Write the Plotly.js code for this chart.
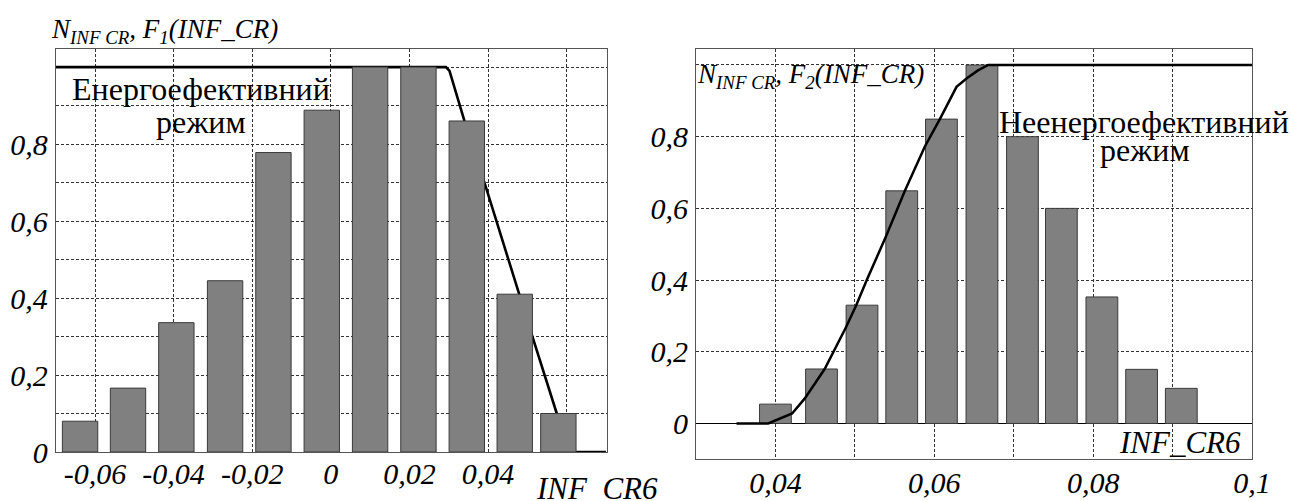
<!DOCTYPE html>
<html>
<head>
<meta charset="utf-8">
<script src="https://cdn.plot.ly/plotly-3.0.1.min.js"></script>
<style>
  html, body { margin: 0; padding: 0; background: #fff; }
  #chart { width: 1291px; height: 501px; }
</style>
</head>
<body>
<div id="chart"></div>
<script>
// ---------- Left panel: energy-efficient mode ----------
const leftBinCenters = [-0.0638, -0.0516, -0.0393, -0.0269, -0.0146, -0.0023, 0.0100, 0.0223, 0.0346, 0.0468, 0.0579];
const leftCounts     = [0.080, 0.166, 0.336, 0.445, 0.778, 0.888, 1.000, 1.000, 0.860, 0.410, 0.100];
const leftF1X = [-0.07, 0.0293, 0.0302, 0.0340, 0.0394, 0.0478, 0.0513, 0.0575, 0.0605, 0.07];
const leftF1Y = [1.00, 1.00, 0.99, 0.86, 0.69, 0.41, 0.30, 0.10, 0.00, 0.00];

// ---------- Right panel: non-energy-efficient mode ----------
const rightBinCenters = [0.0400, 0.0458, 0.0509, 0.0559, 0.0609, 0.0660, 0.0711, 0.0760, 0.0811, 0.0861, 0.0911];
const rightCounts     = [0.054, 0.152, 0.330, 0.649, 0.849, 1.000, 0.800, 0.600, 0.353, 0.151, 0.098];
const rightF2X = [0.0351, 0.0391, 0.0421, 0.0437, 0.0462, 0.0489, 0.0502, 0.0515, 0.0539, 0.0563, 0.0588, 0.0607, 0.0628, 0.0641, 0.0655, 0.0668, 0.1];
const rightF2Y = [0.000, 0.000, 0.028, 0.070, 0.152, 0.269, 0.331, 0.400, 0.521, 0.649, 0.772, 0.849, 0.939, 0.963, 0.985, 1.000, 1.000];

// ---------- Tick labels and grid positions ----------
const leftXTickVals  = [-0.06, -0.04, -0.02, 0, 0.02, 0.04];
const leftXTickText  = ['-0,06', '-0,04', '-0,02', '0', '0,02', '0,04'];
const leftXGridExtra = [0.06];
const leftYTickVals  = [0, 0.2, 0.4, 0.6, 0.8];
const leftYTickText  = ['0', '0,2', '0,4', '0,6', '0,8'];
const leftYGridExtra = [0.1, 0.3, 0.5, 0.7, 0.9, 1.0];
const rightXTickVals = [0.04, 0.06, 0.08, 0.1];
const rightXTickText = ['0,04', '0,06', '0,08', '0,1'];
const rightXGridExtra = [0.05, 0.07, 0.09];
const rightYTickVals = [0, 0.2, 0.4, 0.6, 0.8];
const rightYTickText = ['0', '0,2', '0,4', '0,6', '0,8'];
const rightYGridExtra = [1.0];

// ---------- Texts ----------
const leftTitle   = 'N<sub>INF CR</sub>, F<sub>1</sub>(INF_CR)';
const rightTitle  = 'N<sub>INF CR</sub>, F<sub>2</sub>(INF_CR)';
const leftMode1   = 'Енергоефективний';
const leftMode2   = 'режим';
const rightMode1  = 'Неенергоефективний';
const rightMode2  = 'режим';
const axisName    = 'INF_CR6';

const W = 1291, H = 501;
const px = v => v / W;
const py = v => (H - v) / H;

const SERIF = 'Liberation Serif';
const tickFont = {family: SERIF, size: 30, color: '#000', style: 'italic'};
const BAR_FILL = '#808080', BAR_EDGE = '#3a3a3a';

const GRID_COLOR = '#333', GRID_DASH = '3px,2px';
function axisStyle(extraGrid) {
  return {
    showgrid: true, gridcolor: GRID_COLOR, gridwidth: 1, griddash: GRID_DASH,
    showline: true, linecolor: '#555', linewidth: 1, mirror: true,
    ticks: '', zeroline: false, fixedrange: true, tickmode: 'array',
    tickfont: Object.assign({}, tickFont),
    minor: {tickmode: 'array', tickvals: extraGrid, ticks: '', showgrid: true,
            gridcolor: GRID_COLOR, gridwidth: 1, griddash: GRID_DASH}
  };
}

const traces = [
  // left F1 line, drawn beneath the histogram
  {type: 'scatter', mode: 'lines', x: leftF1X, y: leftF1Y, xaxis: 'x', yaxis: 'y',
   line: {color: '#000', width: 2.6}, hoverinfo: 'skip'},
  // left histogram on overlay axes (drawn above the line)
  {type: 'bar', x: leftBinCenters, y: leftCounts, xaxis: 'x3', yaxis: 'y3', width: 0.0090,
   marker: {color: BAR_FILL, line: {color: BAR_EDGE, width: 1}}, hoverinfo: 'skip'},
  // right histogram
  {type: 'bar', x: rightBinCenters, y: rightCounts, xaxis: 'x2', yaxis: 'y2', width: 0.0040,
   marker: {color: BAR_FILL, line: {color: BAR_EDGE, width: 1}}, hoverinfo: 'skip'},
  // right F2 line, above the bars
  {type: 'scatter', mode: 'lines', x: rightF2X, y: rightF2Y, xaxis: 'x2', yaxis: 'y2',
   line: {color: '#000', width: 2.5}, hoverinfo: 'skip'}
];

const leftXDomain = [px(55.7), px(606.7)];
const leftYDomain = [py(452), py(49)];
const rightXDomain = [px(696), px(1252)];
const rightYDomain = [py(459.3), py(49)];

function note(text, x, y, xanchor, size, italic) {
  return {text: text, xref: 'paper', yref: 'paper', x: px(x), y: py(y), xanchor: xanchor, yanchor: 'middle',
          showarrow: false, borderpad: 0,
          font: {family: SERIF, size: size, color: '#000', style: italic ? 'italic' : 'normal'}};
}

const layout = {
  width: W, height: H, autosize: false,
  font: {family: SERIF},
  margin: {l: 0, r: 0, t: 0, b: 0, pad: 0},
  paper_bgcolor: '#fff', plot_bgcolor: 'rgba(0,0,0,0)',
  showlegend: false, hovermode: false, bargap: 0,
  xaxis: Object.assign(axisStyle(leftXGridExtra), {domain: leftXDomain, anchor: 'y', range: [-0.0700, 0.0702],
    tickvals: leftXTickVals, ticktext: leftXTickText, ticklabelstandoff: -5}),
  yaxis: Object.assign(axisStyle(leftYGridExtra), {domain: leftYDomain, anchor: 'x', range: [0, 1.047],
    tickvals: leftYTickVals, ticktext: leftYTickText, ticklabelstandoff: 1}),
  xaxis3: {overlaying: 'x', anchor: 'y3', range: [-0.0700, 0.0702], visible: false, fixedrange: true},
  yaxis3: {overlaying: 'y', anchor: 'x3', range: [0, 1.047], visible: false, fixedrange: true},
  xaxis2: Object.assign(axisStyle(rightXGridExtra), {domain: rightXDomain, anchor: 'y2', range: [0.03, 0.1],
    tickvals: rightXTickVals, ticktext: rightXTickText, ticklabelstandoff: -3}),
  yaxis2: Object.assign(axisStyle(rightYGridExtra), {domain: rightYDomain, anchor: 'x2', range: [-0.0999, 1.0446],
    tickvals: rightYTickVals, ticktext: rightYTickText, ticklabelstandoff: 1,
    zeroline: true, zerolinecolor: '#000', zerolinewidth: 1}),
  annotations: [
    note(leftTitle, 50, 31, 'left', 27, true),
    note(rightTitle, 696, 76, 'left', 27, true),
    note(leftMode1, 201, 89, 'center', 32, false),
    note(leftMode2, 201, 122, 'center', 32, false),
    note(rightMode1, 1143.5, 122, 'center', 32, false),
    note(rightMode2, 1145, 150, 'center', 32, false),
    note(axisName, 597, 488, 'center', 31, true),
    note(axisName, 1242, 442, 'right', 31, true)
  ]
};

Plotly.newPlot('chart', traces, layout, {displayModeBar: false, staticPlot: true});
</script>
</body>
</html>
